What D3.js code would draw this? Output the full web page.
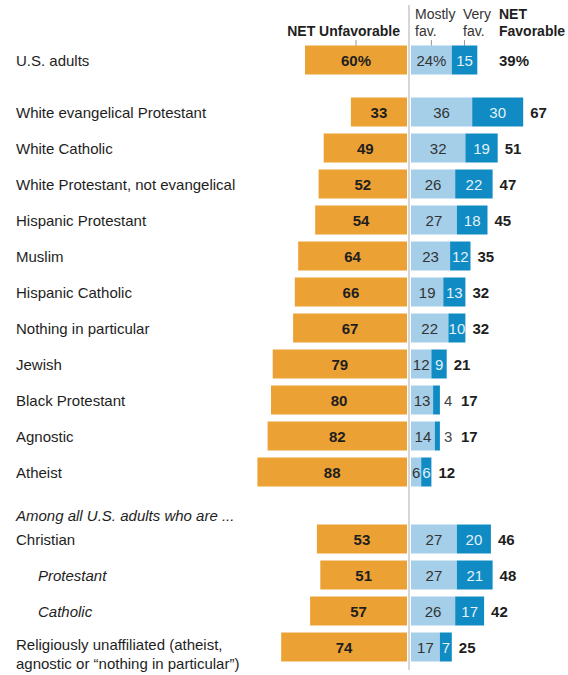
<!DOCTYPE html>
<html>
<head>
<meta charset="utf-8">
<script src="https://cdn.jsdelivr.net/npm/d3@7"></script>
<style>
  body { margin: 0; background: #fff; }
  svg text { font-family: "Liberation Sans", Arial, sans-serif; }
</style>
</head>
<body>
<svg id="chart" width="568" height="675"></svg>
<script>
// Row labels (array = multi-line label)
const groups = [
  'U.S. adults',
  'White evangelical Protestant',
  'White Catholic',
  'White Protestant, not evangelical',
  'Hispanic Protestant',
  'Muslim',
  'Hispanic Catholic',
  'Nothing in particular',
  'Jewish',
  'Black Protestant',
  'Agnostic',
  'Atheist',
  'Christian',
  'Protestant',
  'Catholic',
  ['Religiously unaffiliated (atheist,', 'agnostic or \u201cnothing in particular\u201d)']
];
const unfavorable = [60, 33, 49, 52, 54, 64, 66, 67, 79, 80, 82, 88, 53, 51, 57, 74];
const mostlyFav   = [24, 36, 32, 26, 27, 23, 19, 22, 12, 13, 14, 6, 27, 27, 26, 17];
const veryFav     = [15, 30, 19, 22, 18, 12, 13, 10, 9, 4, 3, 6, 20, 21, 17, 7];
const netFav      = [39, 67, 51, 47, 45, 35, 32, 32, 21, 17, 17, 12, 46, 48, 42, 25];
const italicRows  = [13, 14];   // indented subgroups
const subtitle = 'Among all U.S. adults who are ...';

const colors = { unfav: '#EBA134', mostly: '#A5CEE8', very: '#108BC3', text: '#1e1e1e' };

const svg = d3.select('#chart');
const divider = 409;
const rowH = 36, barH = 29;
const fs = 15;

// bar length scale (same for both sides)
const x = d3.scaleLinear().domain([0, 100]).range([0, 170]);
const leftEdge = divider - 2, rightEdge = divider + 2;

// vertical position: extra gap after the total row and before the sub-group block
const rowY = (i) => 60 + i * rowH + (i >= 1 ? 16 : 0) + (i >= 12 ? 31 : 0);

const rows = groups.map((g, i) => ({
  label: g, i,
  unfav: unfavorable[i], mostly: mostlyFav[i], very: veryFav[i], net: netFav[i],
  y: rowY(i)
}));

// divider
svg.append('line')
  .attr('x1', divider).attr('x2', divider)
  .attr('y1', 5).attr('y2', 670)
  .attr('stroke', '#c8c8c8').attr('stroke-width', 1.5);

// header
const header = svg.append('g').attr('font-size', 14).attr('fill', colors.text);
const netFavX = 499;
header.append('text').attr('x', 400).attr('y', 36).attr('text-anchor', 'end')
  .attr('font-weight', 'bold').text('NET Unfavorable');
[['Mostly', 'fav.', rightEdge + 4], ['Very', 'fav.', 463]].forEach(([a, b, hx]) => {
  const t = header.append('text').attr('x', hx).attr('y', 19).attr('fill', '#333');
  t.append('tspan').text(a);
  t.append('tspan').attr('x', hx).attr('dy', 17).text(b);
});
const nf = header.append('text').attr('x', netFavX).attr('y', 19).attr('font-weight', 'bold');
nf.append('tspan').text('NET');
nf.append('tspan').attr('x', netFavX).attr('dy', 17).text('Favorable');

// header ticks pointing at the segments of the first row
const r0 = rows[0];
const tickXs = [
  leftEdge - x(r0.unfav) / 2,
  rightEdge + x(r0.mostly) / 2,
  rightEdge + x(r0.mostly) + x(r0.very) / 2
];
header.selectAll('line.tick').data(tickXs).enter().append('line')
  .attr('class', 'tick')
  .attr('x1', (d) => d).attr('x2', (d) => d)
  .attr('y1', 40).attr('y2', 46)
  .attr('stroke', '#999').attr('stroke-width', 1);

// subtitle
svg.append('text').attr('x', 16).attr('y', rowY(12) - 24)
  .attr('font-size', fs).attr('font-style', 'italic').attr('fill', colors.text)
  .attr('dominant-baseline', 'central')
  .text(subtitle);

// row labels
const labels = svg.selectAll('text.row-label').data(rows).enter().append('text')
  .attr('class', 'row-label')
  .attr('x', (d) => (italicRows.includes(d.i) ? 38 : 16))
  .attr('y', (d) => d.y)
  .attr('font-size', fs)
  .attr('fill', colors.text)
  .attr('font-style', (d) => (italicRows.includes(d.i) ? 'italic' : null))
  .attr('dominant-baseline', 'central');
labels.each(function (d) {
  const lines = Array.isArray(d.label) ? d.label : [d.label];
  const sel = d3.select(this);
  lines.forEach((l, k) => {
    sel.append('tspan').attr('x', sel.attr('x'))
      .attr('dy', k === 0 ? -(lines.length - 1) * 3 : 19)
      .text(l);
  });
});

const rowG = svg.selectAll('g.row').data(rows).enter().append('g')
  .attr('class', 'row')
  .attr('transform', (d) => `translate(0,${d.y})`);

// unfavorable bars
rowG.append('rect')
  .attr('x', (d) => leftEdge - x(d.unfav))
  .attr('y', -barH / 2).attr('height', barH)
  .attr('width', (d) => x(d.unfav))
  .attr('fill', colors.unfav);
rowG.append('text')
  .attr('x', (d) => leftEdge - x(d.unfav) / 2)
  .attr('dominant-baseline', 'central').attr('text-anchor', 'middle')
  .attr('font-size', fs).attr('font-weight', 'bold').attr('fill', colors.text)
  .text((d) => (d.i === 0 ? d.unfav + '%' : d.unfav));

// mostly favorable
rowG.append('rect')
  .attr('x', rightEdge)
  .attr('y', -barH / 2).attr('height', barH)
  .attr('width', (d) => x(d.mostly))
  .attr('fill', colors.mostly);
rowG.append('text')
  .attr('x', (d) => rightEdge + x(d.mostly) / 2)
  .attr('dominant-baseline', 'central').attr('text-anchor', 'middle')
  .attr('font-size', fs).attr('fill', '#333')
  .text((d) => (d.i === 0 ? d.mostly + '%' : d.mostly));

// very favorable
rowG.append('rect')
  .attr('x', (d) => rightEdge + x(d.mostly))
  .attr('y', -barH / 2).attr('height', barH)
  .attr('width', (d) => x(d.very))
  .attr('fill', colors.very);
const barEnd = (d) => rightEdge + x(d.mostly) + x(d.very);
const outside = (d) => d.very < 5;
rowG.append('text')
  .attr('x', (d) => (outside(d) ? barEnd(d) + 4 : rightEdge + x(d.mostly) + x(d.very) / 2))
  .attr('dominant-baseline', 'central')
  .attr('text-anchor', (d) => (outside(d) ? 'start' : 'middle'))
  .attr('font-size', fs)
  .attr('fill', (d) => (outside(d) ? '#444' : '#e3f2fb'))
  .text((d) => d.very);

// net favorable
rowG.append('text')
  .attr('x', (d) => {
    if (d.i === 0) return netFavX;
    return outside(d) ? barEnd(d) + 21 : barEnd(d) + 7;
  })
  .attr('dominant-baseline', 'central')
  .attr('font-size', fs).attr('font-weight', 'bold').attr('fill', colors.text)
  .text((d) => (d.i === 0 ? d.net + '%' : d.net));
</script>
</body>
</html>
